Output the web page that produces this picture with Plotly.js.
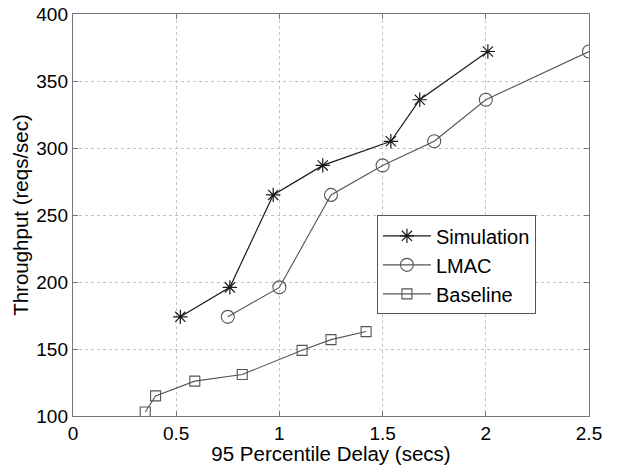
<!DOCTYPE html>
<html>
<head>
<meta charset="utf-8">
<script src="https://cdn.plot.ly/plotly-3.0.1.min.js"></script>
<style>html,body{margin:0;padding:0;background:#fff;}#chart{width:618px;height:465px;}</style>
</head>
<body>
<div id="chart"></div>
<script>
const simX = [0.52, 0.76, 0.97, 1.21, 1.54, 1.68, 2.01];
const simY = [174, 196, 265, 287, 305, 336, 372];
const lmacX = [0.75, 1.00, 1.25, 1.50, 1.75, 2.00, 2.50];
const lmacY = [174, 196, 265, 287, 305, 336, 372];
const baseX = [0.35, 0.40, 0.59, 0.82, 1.11, 1.25, 1.42];
const baseY = [103, 115, 126, 131, 149, 157, 163];
const xTicks = [0, 0.5, 1, 1.5, 2, 2.5];
const xTickText = ['0', '0.5', '1', '1.5', '2', '2.5'];
const yTicks = [100, 150, 200, 250, 300, 350, 400];

const fam = 'Liberation Sans, Arial, sans-serif';
const tickFont = {family: fam, size: 19, color: '#000'};
const titleFont = {family: fam, size: 20.5, color: '#000'};
const legendFont = {family: fam, size: 20, color: '#000'};

const traces = [
  {x: simX, y: simY, name: 'Simulation', mode: 'lines+markers',
   line: {color: '#1a1a1a', width: 1.2},
   marker: {symbol: 'asterisk-open', size: 12, color: '#1a1a1a', line: {color: '#1a1a1a', width: 1.2}}},
  {x: lmacX, y: lmacY, name: 'LMAC', mode: 'lines+markers',
   line: {color: '#555', width: 1.1},
   marker: {symbol: 'circle-open', size: 13, color: '#555', line: {color: '#555', width: 1.1}}},
  {x: baseX, y: baseY, name: 'Baseline', mode: 'lines+markers',
   line: {color: '#555', width: 1.1},
   marker: {symbol: 'square-open', size: 10, color: '#555', line: {color: '#555', width: 1.1}}}
];

const axisCommon = {
  showline: true, mirror: 'ticks', linecolor: '#777', linewidth: 1.2,
  ticks: 'inside', ticklen: 5, tickcolor: '#777', tickwidth: 1,
  showgrid: true, gridcolor: '#c4c4c4', griddash: 'dot', gridwidth: 1,
  zeroline: false, tickfont: tickFont, automargin: false
};

const layout = {
  width: 618, height: 465,
  margin: {l: 73, r: 29, t: 14, b: 49},
  paper_bgcolor: '#fff', plot_bgcolor: '#fff',
  font: tickFont,
  showlegend: true,
  legend: {x: 0.589, y: 0.376, xanchor: 'left', yanchor: 'middle',
           bordercolor: '#555', borderwidth: 1, bgcolor: '#fff',
           font: legendFont, tracegroupgap: 0, itemwidth: 48},
  xaxis: Object.assign({}, axisCommon, {
    range: [0, 2.5], tickvals: xTicks, ticktext: xTickText,
    title: {text: '95 Percentile Delay (secs)', font: titleFont, standoff: 0}
  }),
  yaxis: Object.assign({}, axisCommon, {
    range: [100, 400], tickvals: yTicks,
    title: {text: 'Throughput (reqs/sec)', font: titleFont, standoff: 2}
  })
};

Plotly.newPlot('chart', traces, layout, {displayModeBar: false, staticPlot: true});
</script>
</body>
</html>
